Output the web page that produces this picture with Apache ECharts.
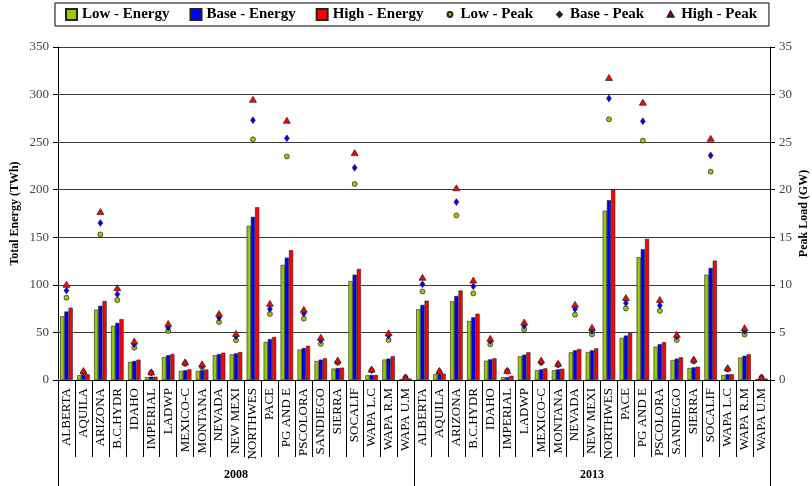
<!DOCTYPE html>
<html>
<head>
<meta charset="utf-8">
<script src="https://cdn.jsdelivr.net/npm/echarts@6/dist/echarts.min.js"></script>
<style>
html,body{margin:0;padding:0;background:#fff;}
#c{width:812px;height:486px;}
</style>
</head>
<body>
<div id="c"></div>
<script>
const regions = ['ALBERTA','AQUILA','ARIZONA','B.C.HYDR','IDAHO','IMPERIAL','LADWP','MEXICO-C','MONTANA','NEVADA','NEW MEXI','NORTHWES','PACE','PG AND E','PSCOLORA','SANDIEGO','SIERRA','SOCALIF','WAPA L.C','WAPA R.M','WAPA U.M'];
const years = ['2008','2013'];
const categories = regions.concat(regions);

const lowEnergy = [67,5,74,57,19,3,24,9.5,9.5,26,27,162,40,121,32,20,12,104,5,21.5,1,
                   74.3,6,82.7,62,20.3,3,24.9,10.2,10.2,29.1,29.4,178,44.3,129,35.1,21,12.6,110.7,5.3,23.5,1];
const baseEnergy = [72,6,78,60,20,3.5,26,10.2,10.2,27.3,28,171.5,43,128.6,33.6,21.4,12.6,110.7,5.3,22.5,1.2,
                    78.9,6,88.3,65.9,21.7,3,26.6,11.2,11.2,31.2,31.2,189,46.7,137.4,37.6,22.5,13.3,117.8,6,25.5,1.5];
const highEnergy = [76,6,83,64,21.4,3.5,27.3,11.2,11,28.7,29.4,181.6,45.2,136.4,36,22.8,13,116.7,5.3,25,1.5,
                    83.4,6.6,94,69.7,22.8,4.5,29.1,12.3,11.9,32.6,33.3,200,49.5,148.3,39.7,23.9,14,125.5,6,27,1.5];

const lowPeak = [8.65,0.7,15.3,8.4,3.4,0.75,5.15,1.7,1.35,6.1,4.17,25.3,6.94,23.5,6.45,3.8,1.8,20.6,1.0,4.2,0.25,
                 9.3,0.85,17.3,9.1,3.75,0.95,5.33,1.8,1.58,6.87,4.8,27.4,7.52,25.16,7.27,4.2,1.93,21.9,1.1,4.78,0.25];
const basePeak = [9.4,0.85,16.5,9.0,3.75,0.8,5.5,1.8,1.5,6.55,4.6,27.3,7.47,25.4,7.0,4.17,1.95,22.3,1.05,4.66,0.28,
                  10.06,0.9,18.7,9.85,4.1,0.95,5.7,1.9,1.65,7.47,5.15,29.6,8.08,27.2,7.83,4.57,2.1,23.6,1.2,5.15,0.28];
const highPeak = [10.06,1.0,17.7,9.7,4.1,0.85,5.95,1.9,1.7,7.0,4.9,29.5,8.06,27.3,7.43,4.5,2.1,23.9,1.15,4.97,0.3,
                  10.8,1.0,20.2,10.5,4.38,1.0,6.1,2.1,1.75,7.96,5.54,31.8,8.67,29.2,8.47,4.8,2.2,25.4,1.3,5.5,0.3];

const energyTicks = {min:0, max:350, interval:50};
const peakTicks = {min:0, max:35, interval:5};

const serif = 'Liberation Serif';
const GREEN = '#99CC00', BLUE = '#0000FF', RED = '#FF0000';

const iconCircle = 'path://M0 0M10 10M7.2 5A2.2 2.2 0 1 1 2.8 5A2.2 2.2 0 1 1 7.2 5Z';
const iconDiamond = 'path://M0 0M10 10M5 2.6L7.2 5L5 7.4L2.8 5Z';
const iconTri = 'path://M0 0M10 10M5 2.4L7.6 7L2.4 7Z';

const chart = echarts.init(document.getElementById('c'));
const barStyle = (c) => ({color:c, borderColor:'#222', borderWidth:0.6});
const option = {
  animation:false,
  textStyle:{fontFamily:serif},
  legend:{
    top:3, left:55,
    borderColor:'#000', borderWidth:1, padding:[4,12,4,10],
    itemGap:20, itemWidth:11, itemHeight:11,
    textStyle:{fontFamily:serif, fontWeight:'bold', fontSize:15, color:'#000'},
    data:[
      {name:'Low - Energy', icon:'rect'},
      {name:'Base - Energy', icon:'rect'},
      {name:'High - Energy', icon:'rect'},
      {name:'Low - Peak', icon:iconCircle},
      {name:'Base - Peak', icon:iconDiamond},
      {name:'High - Peak', icon:iconTri}
    ]
  },
  grid:{left:58, right:42, top:47, bottom:106, containLabel:false, outerBoundsMode:'none'},
  xAxis:[
    {type:'category', data:categories, position:'bottom',
     axisLine:{lineStyle:{color:'#000', width:1}},
     axisTick:{show:true, interval:0, length:77, lineStyle:{color:'#000'}},
     axisLabel:{interval:0, rotate:90, margin:8, fontFamily:serif, fontSize:13, color:'#000'}},
    {type:'category', data:years, position:'bottom',
     axisLine:{show:false},
     axisTick:{show:true, length:106, lineStyle:{color:'#000'}},
     axisLabel:{margin:89, fontFamily:serif, fontWeight:'bold', fontSize:12, color:'#000'}}
  ],
  yAxis:[
    {type:'value', min:energyTicks.min, max:energyTicks.max, interval:energyTicks.interval,
     name:'Total Energy (TWh)', nameLocation:'middle', nameGap:37, nameRotate:90, nameMoveOverlap:false,
     nameTextStyle:{fontFamily:serif, fontWeight:'bold', fontSize:12, color:'#000'},
     axisLine:{show:true, lineStyle:{color:'#000'}},
     axisTick:{show:true, length:5, lineStyle:{color:'#000'}},
     axisLabel:{margin:9, fontFamily:serif, fontSize:13, color:'#444'},
     splitLine:{show:true, lineStyle:{color:'#3a3a3a', width:1}}},
    {type:'value', min:peakTicks.min, max:peakTicks.max, interval:peakTicks.interval, position:'right',
     name:'Peak Load (GW)', nameLocation:'middle', nameGap:28, nameRotate:90, nameMoveOverlap:false,
     nameTextStyle:{fontFamily:serif, fontWeight:'bold', fontSize:12, color:'#000'},
     axisLine:{show:true, lineStyle:{color:'#000'}},
     axisTick:{show:true, length:5, lineStyle:{color:'#000'}},
     axisLabel:{margin:9, fontFamily:serif, fontSize:13, color:'#444'},
     splitLine:{show:false}}
  ],
  series:[
    {name:'Low - Energy', type:'bar', data:lowEnergy, yAxisIndex:0, barGap:'0%', barCategoryGap:'26%', itemStyle:barStyle(GREEN)},
    {name:'Base - Energy', type:'bar', data:baseEnergy, yAxisIndex:0, barGap:'0%', barCategoryGap:'26%', itemStyle:barStyle(BLUE)},
    {name:'High - Energy', type:'bar', data:highEnergy, yAxisIndex:0, barGap:'0%', barCategoryGap:'26%', itemStyle:barStyle(RED)},
    {name:'Low - Peak', type:'scatter', data:lowPeak, yAxisIndex:1, symbol:'circle', symbolSize:5,
     itemStyle:{color:GREEN, borderColor:'#222', borderWidth:0.7, opacity:1}},
    {name:'Base - Peak', type:'scatter', data:basePeak, yAxisIndex:1, symbol:'diamond', symbolSize:[5,7],
     itemStyle:{color:BLUE, borderColor:'#222', borderWidth:0.5, opacity:1}},
    {name:'High - Peak', type:'scatter', data:highPeak, yAxisIndex:1, symbol:'triangle', symbolSize:[7,6],
     itemStyle:{color:RED, borderColor:'#222', borderWidth:0.7, opacity:1}}
  ]
};
chart.setOption(option);
</script>
</body>
</html>
